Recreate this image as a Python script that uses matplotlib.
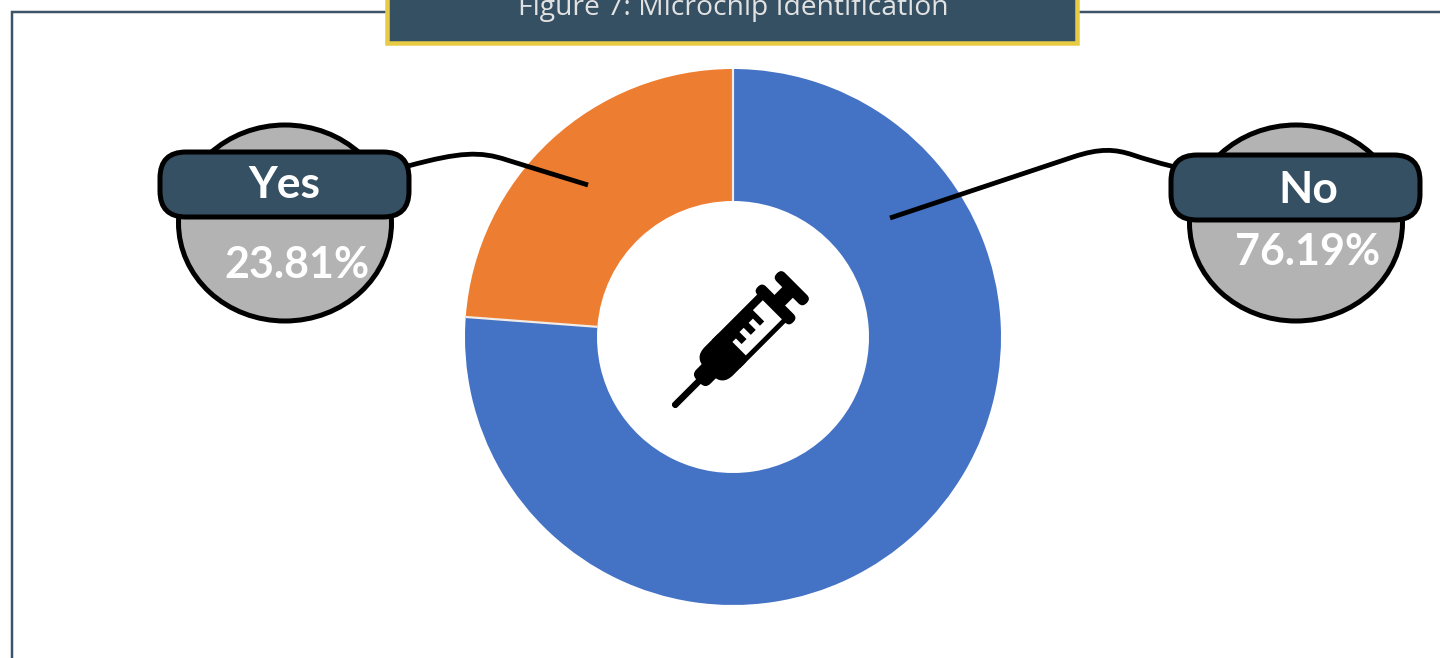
import numpy as np
import matplotlib
matplotlib.use('Agg')
import matplotlib.pyplot as plt
from matplotlib.patches import Ellipse, FancyBboxPatch, Polygon, Rectangle, PathPatch
from matplotlib.path import Path
from matplotlib.transforms import Affine2D

#%% Data
categories = ['No', 'Yes']
shares = [76.19, 23.81]
slice_colors = ['#4472c4', '#ed7d31']
title = 'Figure 7: Microchip Identification'

SLATE = '#355063'
GOLD = '#e8cb45'
GREY = '#b3b3b3'
W, H = 1440, 658
PX = 0.72  # pixels to points at dpi 100

fig = plt.figure(figsize=(W / 100, H / 100), dpi=100, facecolor='white')

#%% Donut
cx, cy, r_out, r_in = 733, 337, 268, 136
pie_ax = fig.add_axes([(cx - r_out) / W, 1 - (cy + r_out) / H, 2 * r_out / W, 2 * r_out / H])
pie_ax.pie(shares, colors=slice_colors, startangle=90, counterclock=False, radius=1,
           wedgeprops=dict(width=1 - r_in / r_out, edgecolor='none'))
# thin pale separators between the slices, no outline round the ring
for start in np.cumsum([0] + shares[:-1]):
    a = np.pi / 2 - 2 * np.pi * start / sum(shares)
    pie_ax.plot([r_in / r_out * np.cos(a), np.cos(a)], [r_in / r_out * np.sin(a), np.sin(a)],
                color='#f2ece6', lw=2.2 * PX, solid_capstyle='butt')
pie_ax.set_xlim(-1, 1)
pie_ax.set_ylim(-1, 1)
pie_ax.axis('off')

#%% Overlay in pixel coordinates
ax = fig.add_axes([0, 0, 1, 1], facecolor='none')
ax.set_xlim(0, W)
ax.set_ylim(H, 0)
ax.axis('off')

# outer frame and title box
ax.plot([12, 12, 386], [H + 5, 12, 12], color='#3d5468', lw=2.5 * PX, solid_joinstyle='miter')
ax.plot([1078, W + 5], [12, 12], color='#3d5468', lw=2.5 * PX)
ax.add_patch(Rectangle((387, -20), 689.5, 62.5, facecolor=SLATE, edgecolor=GOLD, lw=4.5 * PX, zorder=3))
ax.text(733, 8, title, color='#e2e2e2', fontsize=20.3, family='Open Sans',
        ha='center', va='center', zorder=4)


def leader(points):
    codes = [Path.MOVETO] + [Path.CURVE4] * (len(points) - 1)
    ax.add_patch(PathPatch(Path(points, codes), facecolor='none', edgecolor='black',
                           lw=4.8 * PX, capstyle='butt', zorder=2))


leader([(588, 185), (555, 175), (530, 167), (507, 160),
        (480, 151), (460, 152), (408, 166)])
leader([(890, 218), (950, 198), (1010, 178), (1073, 157),
        (1100, 148), (1115, 149), (1133, 155),
        (1145, 159), (1155, 162), (1175, 167)])


def callout(name, share, cxc, cyc, pill_x, pill_y, name_xy, pct_xy):
    ax.add_patch(Ellipse((cxc, cyc), 213, 196, facecolor=GREY, edgecolor='black', lw=5 * PX, zorder=3))
    pad = 26
    ax.add_patch(FancyBboxPatch((pill_x + pad, pill_y + pad), 249 - 2 * pad, 65 - 2 * pad,
                                boxstyle='round,pad=%d,rounding_size=%d' % (pad, pad),
                                facecolor=SLATE, edgecolor='black', lw=5 * PX, zorder=4))
    ax.text(*name_xy, name, color='white', fontsize=32, family='Lato', fontweight='bold',
            ha='center', va='center', zorder=5)
    ax.text(*pct_xy, '%.2f%%' % share, color='white', fontsize=31, family='Lato', fontweight='bold',
            ha='center', va='center', zorder=5)


callout(categories[1], shares[1], 285, 223, 160, 152, (284, 185), (297, 265))
callout(categories[0], shares[0], 1296, 223, 1171, 155, (1308, 190), (1308, 252))

#%% Syringe icon, drawn along its own axis then turned 45 degrees up to the right
turn = Affine2D().rotate_deg(-45).translate(673, 407) + ax.transData
ink = dict(facecolor='black', edgecolor='none', zorder=3, transform=turn)


def bar(u0, u1, half, round_px=0, **style):
    if round_px:
        ax.add_patch(FancyBboxPatch((u0 + round_px, -half + round_px), u1 - u0 - 2 * round_px,
                                    2 * half - 2 * round_px,
                                    boxstyle='round,pad=%g,rounding_size=%g' % (round_px, round_px), **style))
    else:
        ax.add_patch(Rectangle((u0, -half), u1 - u0, 2 * half, **style))


bar(0, 42, 3.3, 3, **ink)           # needle
bar(36, 62, 10, 7, **ink)           # hub
bar(50, 95, 20, 15, **ink)          # barrel shoulder
bar(75, 146, 20, **ink)             # barrel
bar(139, 151, 25, 5.5, **ink)       # flange
bar(146, 166, 7.5, **ink)           # rod
bar(162, 174, 21, 5.5, **ink)       # thumb rest

# graduated window
white = dict(facecolor='white', edgecolor='none', zorder=4, transform=turn)
ax.add_patch(Polygon([(88, 15), (88, -4), (93, -4), (93, 4), (100, 4), (100, -6), (106, -6),
                      (106, 4), (113, 4), (113, -6), (119, -6), (119, 4), (125, 4), (125, -12),
                      (139, -12), (139, 15)], **white))

fig.savefig('out.png', dpi=100)
